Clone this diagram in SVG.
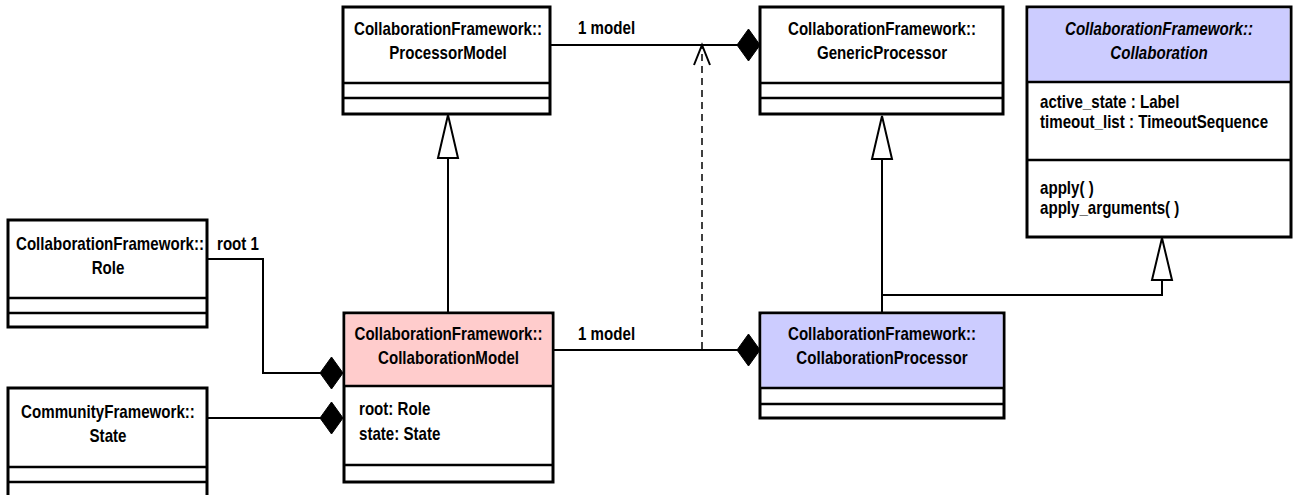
<svg xmlns="http://www.w3.org/2000/svg" width="1295" height="495" viewBox="0 0 1295 495">
  <style>
    .box { fill: #ffffff; stroke: #000000; stroke-width: 3; }
    .hdr-pink { fill: #ffcccc; }
    .hdr-blue { fill: #ccccff; }
    .div { stroke: #000000; stroke-width: 2.5; fill: none; }
    text { font-family: "Liberation Sans", Arial, sans-serif; font-size: 18px; font-weight: bold; fill: #000000; }
    .c { text-anchor: middle; }
    .it { font-style: italic; }
    .conn { stroke: #000000; stroke-width: 2; fill: none; }
    .dash { stroke: #000000; stroke-width: 1.5; fill: none; stroke-dasharray: 7 5; }
    .dia { fill: #000000; stroke: #000000; stroke-width: 1; }
    .tri { fill: #ffffff; stroke: #000000; stroke-width: 2; }
  </style>

  <!-- connectors; text is drawn narrow with scale(0.84 1) -->
  <g id="connectors">
    <!-- ProcessorModel to GenericProcessor (composition) -->
    <line class="conn" x1="550" y1="45" x2="738" y2="45"/>
    <polygon class="dia" points="737,45 748.5,29 760,45 748.5,61"/>
    <text transform="translate(578 34) scale(0.84 1)">1 model</text>

    <!-- CollaborationModel to CollaborationProcessor (composition) -->
    <line class="conn" x1="553" y1="350" x2="738" y2="350"/>
    <polygon class="dia" points="737,350 748.5,334 760,350 748.5,366"/>
    <text transform="translate(578 340) scale(0.84 1)">1 model</text>

    <!-- dependency -->
    <line class="dash" x1="702" y1="349" x2="702" y2="47"/>
    <polyline class="conn" points="694,65 702,45 710,65"/>

    <!-- Role to CollaborationModel -->
    <polyline class="conn" points="207,259 263,259 263,373 321,373"/>
    <polygon class="dia" points="320,373 331.5,357 343,373 331.5,389"/>
    <text transform="translate(217 250) scale(0.84 1)">root 1</text>

    <!-- State to CollaborationModel -->
    <line class="conn" x1="207" y1="418" x2="321" y2="418"/>
    <polygon class="dia" points="320,418 331.5,402 343,418 331.5,434"/>

    <!-- CollaborationModel generalizes ProcessorModel -->
    <line class="conn" x1="448" y1="312" x2="448" y2="158"/>
    <polygon class="tri" points="448,115 438,158 458,158"/>

    <!-- CollaborationProcessor generalizes GenericProcessor and Collaboration -->
    <line class="conn" x1="882" y1="312" x2="882" y2="159"/>
    <polygon class="tri" points="882,116 872,159 892,159"/>
    <polyline class="conn" points="882,295 1162,295 1162,280"/>
    <polygon class="tri" points="1162,238 1152,280 1172,280"/>
  </g>

  <!-- CollaborationFramework::ProcessorModel -->
  <g id="processor-model">
    <rect class="box" x="343" y="7" width="207" height="107"/>
    <line class="div" x1="343" y1="83" x2="550" y2="83"/>
    <line class="div" x1="343" y1="98" x2="550" y2="98"/>
    <text class="c" transform="translate(448 35) scale(0.84 1)">CollaborationFramework::</text>
    <text class="c" transform="translate(448 59) scale(0.84 1)">ProcessorModel</text>
  </g>

  <!-- CollaborationFramework::GenericProcessor -->
  <g id="generic-processor">
    <rect class="box" x="760" y="7" width="243" height="107"/>
    <line class="div" x1="760" y1="83" x2="1003" y2="83"/>
    <line class="div" x1="760" y1="98" x2="1003" y2="98"/>
    <text class="c" transform="translate(882 35) scale(0.84 1)">CollaborationFramework::</text>
    <text class="c" transform="translate(882 59) scale(0.84 1)">GenericProcessor</text>
  </g>

  <!-- CollaborationFramework::Collaboration (abstract) -->
  <g id="collaboration">
    <rect class="box" x="1027" y="7" width="264" height="230"/>
    <rect class="hdr-blue" x="1028.5" y="8.5" width="261" height="73.5"/>
    <line class="div" x1="1027" y1="82" x2="1291" y2="82"/>
    <line class="div" x1="1027" y1="160" x2="1291" y2="160"/>
    <text class="c it" transform="translate(1159 35) scale(0.84 1)">CollaborationFramework::</text>
    <text class="c it" transform="translate(1159 59) scale(0.84 1)">Collaboration</text>
    <text transform="translate(1040 108) scale(0.84 1)">active_state : Label</text>
    <text transform="translate(1040 128) scale(0.84 1)">timeout_list : TimeoutSequence</text>
    <text transform="translate(1040 194) scale(0.84 1)">apply( )</text>
    <text transform="translate(1040 214) scale(0.84 1)">apply_arguments( )</text>
  </g>

  <!-- CollaborationFramework::Role -->
  <g id="role">
    <rect class="box" x="8" y="220" width="199" height="107"/>
    <line class="div" x1="8" y1="298" x2="207" y2="298"/>
    <line class="div" x1="8" y1="313" x2="207" y2="313"/>
    <text class="c" transform="translate(110 250) scale(0.84 1)">CollaborationFramework::</text>
    <text class="c" transform="translate(108 274) scale(0.84 1)">Role</text>
  </g>

  <!-- CommunityFramework::State -->
  <g id="state">
    <rect class="box" x="8" y="388" width="199" height="110"/>
    <line class="div" x1="8" y1="467" x2="207" y2="467"/>
    <line class="div" x1="8" y1="482" x2="207" y2="482"/>
    <text class="c" transform="translate(108 418) scale(0.84 1)">CommunityFramework::</text>
    <text class="c" transform="translate(108 442) scale(0.84 1)">State</text>
  </g>

  <!-- CollaborationFramework::CollaborationModel -->
  <g id="collaboration-model">
    <rect class="box" x="344" y="313" width="209" height="169"/>
    <rect class="hdr-pink" x="345.5" y="314.5" width="206" height="71.5"/>
    <line class="div" x1="344" y1="386" x2="553" y2="386"/>
    <line class="div" x1="344" y1="465" x2="553" y2="465"/>
    <text class="c" transform="translate(448.5 340) scale(0.84 1)">CollaborationFramework::</text>
    <text class="c" transform="translate(448.5 364) scale(0.84 1)">CollaborationModel</text>
    <text transform="translate(359 415) scale(0.84 1)">root: Role</text>
    <text transform="translate(359 440) scale(0.84 1)">state: State</text>
  </g>

  <!-- CollaborationFramework::CollaborationProcessor -->
  <g id="collaboration-processor">
    <rect class="box" x="760" y="313" width="244" height="105"/>
    <rect class="hdr-blue" x="761.5" y="314.5" width="241" height="73.5"/>
    <line class="div" x1="760" y1="388" x2="1004" y2="388"/>
    <line class="div" x1="760" y1="404" x2="1004" y2="404"/>
    <text class="c" transform="translate(882 340) scale(0.84 1)">CollaborationFramework::</text>
    <text class="c" transform="translate(882 364) scale(0.84 1)">CollaborationProcessor</text>
  </g>
</svg>
